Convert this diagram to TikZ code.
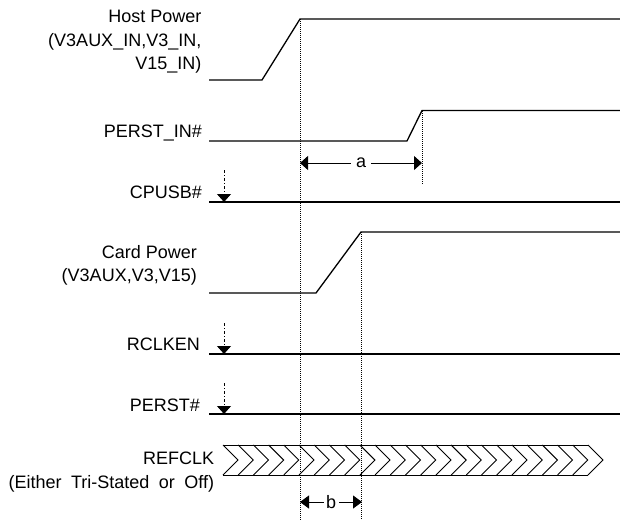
\documentclass[tikz,border=0pt]{standalone}
\usepackage{fontspec}
\setmainfont{Liberation Sans}
\usetikzlibrary{arrows.meta}
\begin{document}
\begin{tikzpicture}[x=1pt,y=-1pt,
  lbl/.style={font=\fontsize{18}{23.5}\selectfont, inner sep=0pt, align=right},
  wave/.style={line width=1.3pt, line join=miter},
  guide/.style={line width=0.7pt, dash pattern=on 1pt off 1pt},
  dim/.style={line width=1pt, {Triangle[length=8pt,width=14pt]}-{Triangle[length=8pt,width=14pt]}},
  dimb/.style={line width=1pt, {Triangle[length=9pt,width=13pt]}-{Triangle[length=9pt,width=13pt]}},
  dimlbl/.style={font=\fontsize{18}{20}\selectfont, fill=white, inner ysep=1pt},
  hint/.style={line width=0.8pt, dash pattern=on 3pt off 2pt on 1pt off 2pt, -{Triangle[length=8pt,width=14pt]}},
  clk/.style={line width=0.9pt, line join=miter}]
\useasboundingbox (0,0) rectangle (620,520);

% labels
\node[lbl, anchor=east] (hostlbl) at (201.5,41.7) {Host Power\\(V3AUX\_IN,V3\_IN,\\V15\_IN)};
\node[lbl, anchor=base east] (perstinlbl) at (202,137) {PERST\_IN\#};
\node[lbl, anchor=base east] (cpusblbl) at (202,198) {CPUSB\#};
\node[lbl, anchor=east] (cardlbl) at (197,265.4) {Card Power\\(V3AUX,V3,V15)};
\node[lbl, anchor=base east] (rclkenlbl) at (200,350) {RCLKEN};
\node[lbl, anchor=base east] (perstlbl) at (200,411) {PERST\#};
\node[lbl, anchor=east] (refclklbl) at (214.3,472) {REFCLK\\\spaceskip=9.5pt (Either Tri-Stated or Off)};

% guide lines
\coordinate (g1top) at (300,19);
\coordinate (g1bot) at (300,520);
\coordinate (g2top) at (361,232);
\coordinate (g2bot) at (361,520);
\coordinate (g3top) at (422,111);
\coordinate (g3bot) at (422,185);
\draw[guide] (g1top) -- (g1bot);
\draw[guide] (g2top) -- (g2bot);
\draw[guide] (g3top) -- (g3bot);

% waveforms
\draw[wave] (209,80) -- (262,80) -- (300,19) -- (620,19);
\draw[wave] (209,141) -- (407,141) -- (422,110.5) -- (620,110.5);
\draw[wave] (209,202) -- (620,202);
\draw[wave] (209,293) -- (316,293) -- (361,232) -- (620,232);
\draw[wave] (209,354) -- (620,354);
\draw[wave] (209,414) -- (620,414);

% hint arrows
\coordinate (h1s) at (224,170); \coordinate (h1e) at (224,202);
\coordinate (h2s) at (224,323); \coordinate (h2e) at (224,354);
\coordinate (h3s) at (224,383); \coordinate (h3e) at (224,414);
\draw[hint] (h1s) -- (h1e);
\draw[hint] (h2s) -- (h2e);
\draw[hint] (h3s) -- (h3e);

% REFCLK chevrons
\draw[clk] (223,445) -- (588,445);
\draw[clk] (223,475) -- (588,475);
\foreach \i in {0,...,24} {
  \pgfmathsetmacro{\xx}{223+15.208*\i}
  \draw[clk] (\xx,445) -- (\xx+15,460) -- (\xx,475);
}

% dimensions
\coordinate (a1) at (300,163); \coordinate (a2) at (422,163);
\draw[dim] (a1) -- node[dimlbl, inner xsep=5pt] (alabel) {a} (a2);
\coordinate (b1) at (300,502); \coordinate (b2) at (362,502);
\draw[dimb] (b1) -- node[dimlbl, inner xsep=2.5pt] (blabel) {b} (b2);
\end{tikzpicture}
\end{document}
